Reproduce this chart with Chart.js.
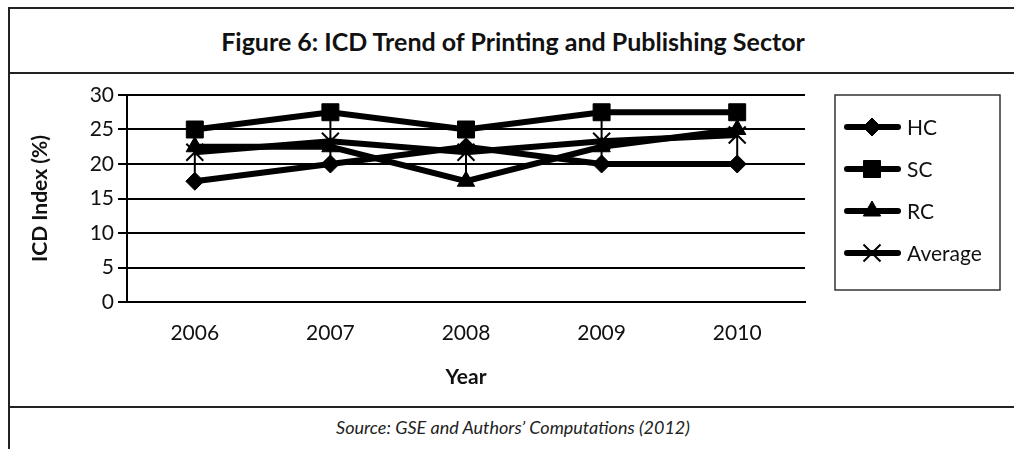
<!DOCTYPE html>
<html lang="en">
<head>
  <meta charset="UTF-8">
  <title>Figure 6</title>
  <style>
    html, body { margin: 0; padding: 0; background: #fff; }
    body { width: 1014px; height: 449px; overflow: hidden; position: relative; font-family: Lato, "Open Sans", sans-serif; }
    .frame {
      position: absolute; left: 8px; top: 7px; width: 1006px; height: 442px;
      border-left: 2px solid #222; border-top: 2px solid #222;
    }
    .title {
      height: 63px; border-bottom: 2px solid #222;
      display: flex; align-items: center; justify-content: center;
      font-weight: bold; font-size: 25px; color: #111;
    }
    .chart-box { height: 332px; position: relative; }
    .source {
      border-top: 2px solid #222; height: 44px;
      display: flex; align-items: center; justify-content: center;
      font-style: italic; font-size: 18px; color: #222;
      padding-bottom: 4px; box-sizing: border-box;
    }
  </style>
</head>
<body>
  <div class="frame">
    <div class="title">Figure 6: ICD Trend of Printing and Publishing Sector</div>
    <div class="chart-box">
      <canvas id="graphic" width="1004" height="332"></canvas>
    </div>
    <div class="source">Source: GSE and Authors’ Computations (2012)</div>
  </div>

  <script src="https://cdn.jsdelivr.net/npm/chart.js"></script>

  <script>
    const years = ['2006', '2007', '2008', '2009', '2010'];
    const hcValues = [17.5, 20, 22.5, 20, 20];
    const scValues = [25, 27.5, 25, 27.5, 27.5];
    const rcValues = [22.5, 22.5, 17.5, 22.5, 25];
    const averageValues = [21.7, 23.3, 21.7, 23.3, 24.2];
    const seriesNames = ['HC', 'SC', 'RC', 'Average'];
    const yTicks = [0, 5, 10, 15, 20, 25, 30];

    document.addEventListener("DOMContentLoaded", () => {
      const lienzo = document.getElementById("graphic");
      const fuente = "Lato, 'Open Sans', sans-serif";

      const marcadores = [
        { pointStyle: 'rectRot', radius: 9, borderWidth: 1 },
        { pointStyle: 'rect', radius: 12, borderWidth: 1 },
        { pointStyle: 'triangle', radius: 10, borderWidth: 1 },
        { pointStyle: 'crossRot', radius: 12, borderWidth: 2 }
      ];

      // lineas verticales entre el maximo y el minimo de cada año
      const highLow = {
        id: 'highLow',
        beforeDatasetsDraw(chart) {
          const { ctx, scales } = chart;
          ctx.save();
          ctx.strokeStyle = '#000';
          ctx.lineWidth = 2;
          years.forEach((y, i) => {
            const vals = chart.data.datasets.map(ds => ds.data[i]);
            const x = scales.x.getPixelForValue(i);
            ctx.beginPath();
            ctx.moveTo(x, scales.y.getPixelForValue(Math.max(...vals)));
            ctx.lineTo(x, scales.y.getPixelForValue(Math.min(...vals)));
            ctx.stroke();
          });
          ctx.restore();
        }
      };

      // leyenda con caja, linea y marcador
      const leyenda = {
        id: 'leyendaCaja',
        afterDraw(chart) {
          const { ctx, chartArea } = chart;
          const left = chartArea.right + 30, top = chartArea.top;
          const w = 165, h = 195;
          ctx.save();
          ctx.strokeStyle = '#333';
          ctx.lineWidth = 1.5;
          ctx.strokeRect(left, top, w, h);
          chart.data.datasets.forEach((ds, i) => {
            const y = top + 32 + i * 42;
            ctx.strokeStyle = '#000';
            ctx.lineWidth = 6;
            ctx.lineCap = 'round';
            ctx.beginPath();
            ctx.moveTo(left + 12, y);
            ctx.lineTo(left + 63, y);
            ctx.stroke();
            ctx.lineCap = 'butt';
            ctx.fillStyle = '#000';
            ctx.lineWidth = ds.pointBorderWidth;
            Chart.helpers.drawPoint(ctx, {
              pointStyle: ds.pointStyle, radius: ds.pointRadius,
              rotation: 0, borderWidth: ds.pointBorderWidth
            }, left + 37, y);
            ctx.fillStyle = '#111';
            ctx.font = "21px " + fuente;
            ctx.textBaseline = 'middle';
            ctx.fillText(ds.label, left + 72, y + 1);
          });
          ctx.restore();
        }
      };

      const series = [hcValues, scValues, rcValues, averageValues];

      new Chart(lienzo, {
        type: 'line',
        data: {
          labels: years,
          datasets: series.map((vals, i) => ({
            label: seriesNames[i],
            data: vals,
            borderColor: '#000',
            backgroundColor: '#000',
            borderWidth: 6,
            pointStyle: marcadores[i].pointStyle,
            pointRadius: marcadores[i].radius,
            pointBorderWidth: marcadores[i].borderWidth,
            pointBackgroundColor: '#000',
            pointBorderColor: '#000',
            tension: 0
          }))
        },
        options: {
          responsive: false,
          animation: false,
          layout: { padding: { left: 0, top: 21, right: 209, bottom: 0 } },
          plugins: {
            legend: { display: false },
            tooltip: { enabled: false }
          },
          scales: {
            x: {
              offset: true,
              grid: { display: false },
              border: { color: '#000', width: 2 },
              ticks: { color: '#111', font: { family: fuente, size: 21 }, padding: 11 },
              title: {
                display: true, text: 'Year', color: '#111',
                font: { family: fuente, size: 21, weight: 'bold' },
                padding: { top: 10, bottom: 16 }
              },
              afterFit(scale) { scale.height = 104; }
            },
            y: {
              min: 0, max: 30,
              afterBuildTicks(scale) { scale.ticks = yTicks.map(v => ({ value: v })); },
              grid: { color: '#000', lineWidth: 2, tickLength: 9 },
              border: { color: '#000', width: 2 },
              ticks: { color: '#111', font: { family: fuente, size: 21 }, padding: 4 },
              title: {
                display: true, text: 'ICD Index (%)', color: '#111',
                font: { family: fuente, size: 21, weight: 'bold' },
                padding: { top: 18, bottom: 0 }
              },
              afterFit(scale) { scale.width = 117; }
            }
          }
        },
        plugins: [highLow, leyenda]
      });
    });
  </script>
</body>
</html>
